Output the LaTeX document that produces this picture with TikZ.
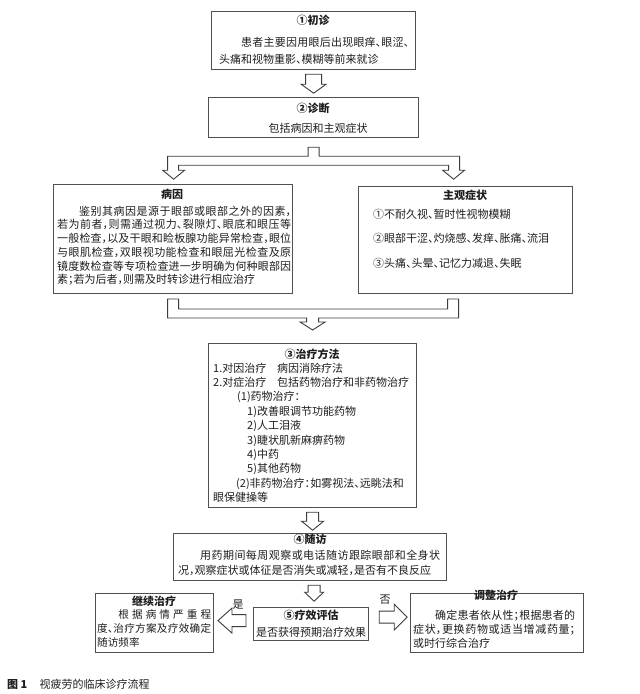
\documentclass[tikz,border=0pt]{standalone}
\usepackage{fontspec}
\setmainfont{Noto Sans CJK SC}[RawFeature=+halt]
\usetikzlibrary{calc}
\XeTeXlinebreaklocale "zh"
\XeTeXlinebreakskip=0pt plus 6pt
\XeTeXlinebreakpenalty=10000
\setlength\parindent{0pt}
\definecolor{framecol}{HTML}{505050}
\definecolor{txtcol}{HTML}{1E1E1E}
\definecolor{arrcol}{HTML}{3C3C3C}
\tikzset{
 frame/.style={draw=framecol, line width=1.2pt, inner sep=0pt, anchor=north west},
 harrow/.style={draw=arrcol, line width=0.9pt, fill=white, line join=miter},
 ttl/.style={inner sep=0pt, text=txtcol, font=\fontsize{11}{13}\selectfont\bfseries},
 plain/.style={inner sep=0pt, text=txtcol, font=\fontsize{11}{13}\selectfont},
 para/.style={inner sep=0pt, text=txtcol, anchor=north west, align=justify},
 lst/.style={inner sep=0pt, text=txtcol, anchor=north west, align=left},
}
\begin{document}
\begin{tikzpicture}[x=1pt,y=-1pt]
\fill[white] (0,0) rectangle (640,694);
\useasboundingbox (0,0) rectangle (640,694);

% frames
\node[frame, minimum width=204pt, minimum height=58pt] (b1) at (211,11) {};
\node[frame, minimum width=210pt, minimum height=40pt] (b2) at (208,97) {};
\node[frame, minimum width=239pt, minimum height=109pt] (lb) at (53,184) {};
\node[frame, minimum width=214pt, minimum height=107pt] (rb) at (358,186) {};
\node[frame, minimum width=208pt, minimum height=164pt] (b3) at (208,343) {};
\node[frame, minimum width=273pt, minimum height=47pt] (b4) at (173,533) {};
\node[frame, minimum width=115pt, minimum height=33pt] (b5) at (253,607) {};
\node[frame, minimum width=118pt, minimum height=59pt] (cb) at (95,593) {};
\node[frame, minimum width=173pt, minimum height=59pt] (ab) at (410,593) {};

% texts
\node[ttl] (t1) at (313,20) {①初诊};
\node[para, text width=190pt, font=\fontsize{11}{17}\selectfont] (p1) at (219,36.5)
 {\hspace*{2em}患者主要因用眼后出现眼痒、眼涩、\linebreak 头痛和视物重影、模糊等前来就诊};

\node[ttl] (t2) at (313,108) {②诊断};
\node[plain] (p2) at (318,128) {包括病因和主观症状};

\node[ttl] (t3) at (172,194) {病因};
\node[para, text width=234pt, font=\fontsize{11}{13.8}\selectfont] (p3) at (57,205.5)
 {\hspace*{2em}鉴别其病因是源于眼部或眼部之外的因素，\linebreak
  若为前者，则需通过视力、裂隙灯、眼底和眼压等\linebreak
  一般检查，以及干眼和睑板腺功能异常检查，眼位\linebreak
  与眼肌检查，双眼视功能检查和眼屈光检查及原\linebreak
  镜度数检查等专项检查进一步明确为何种眼部因\linebreak
  素；若为后者，则需及时转诊进行相应治疗};

\node[ttl] (t4) at (465,195) {主观症状};
\node[lst, font=\fontsize{11}{24.5}\selectfont] (p4) at (373,208.5)
 {①不耐久视、暂时性视物模糊\\②眼部干涩、灼烧感、发痒、胀痛、流泪\\③头痛、头晕、记忆力减退、失眠};

\node[ttl] (t5) at (312,354) {③治疗方法};
\node[lst, font=\fontsize{11}{14.4}\selectfont] (p5) at (213,362.5)
 {\makebox[64pt][l]{1.对因治疗}病因消除疗法\\
  \makebox[64pt][l]{2.对症治疗}包括药物治疗和非药物治疗\\
  \hspace*{24pt}(1)药物治疗：\\
  \hspace*{34pt}1)改善眼调节功能药物\\
  \hspace*{34pt}2)人工泪液\\
  \hspace*{34pt}3)睫状肌新麻痹药物\\
  \hspace*{34pt}4)中药\\
  \hspace*{34pt}5)其他药物\\
  \hspace*{23pt}(2)非药物治疗：如雾视法、远眺法和\\
  眼保健操等};

\node[ttl] (t6) at (310,539) {④随访};
\node[para, text width=262pt, font=\fontsize{11}{15}\selectfont] (p6) at (178,549.5)
 {\parfillskip=0pt\hspace*{2em}用药期间每周观察或电话随访跟踪眼部和全身状\linebreak
  况，观察症状或体征是否消失或减轻，是否有不良反应};

\node[ttl] (t7) at (311,615) {⑤疗效评估};
\node[plain] (p7) at (311,632) {是否获得预期治疗效果};

\node[ttl] (t8) at (154,601) {继续治疗};
\node[para, text width=114pt, font=\fontsize{10.6}{14}\selectfont] (p8) at (97,609.5)
 {\hspace*{2em}根据病情严重程\linebreak 度、治疗方案及疗效确定\linebreak 随访频率};

\node[ttl] (t9) at (496,595) {调整治疗};
\node[para, text width=162pt, font=\fontsize{11}{14}\selectfont] (p9) at (413,609.5)
 {\hspace*{2em}确定患者依从性；根据患者的\linebreak 症状，更换药物或适当增减药量；\linebreak 或时行综合治疗};

\node[plain] (yes) at (238,605) {是};
\node[plain] (no) at (385,600) {否};

\node[plain, anchor=west] (cap) at (7,684) {{\bfseries 图 1}\hspace{1.1em}视疲劳的临床诊疗流程};

% hollow arrows
\draw[harrow, shift={(b1.south)}] (-8,4) -- (8,4) -- (8,14) -- (12.5,14) -- (0,23) -- (-12.5,14) -- (-8,14) -- cycle;

\draw[harrow, shift={(b2.south)}] (-5.5,9) -- (5.5,9) -- (5.5,18) -- (146,18) -- (146,32) -- (151,32) -- (140,41) -- (129,32) -- (135,32) -- (135,27) -- (-135,27) -- (-135,32) -- (-129,32) -- (-140,41) -- (-151,32) -- (-146,32) -- (-146,18) -- (-5.5,18) -- cycle;

\draw[harrow, shift={(b3.north)}] (-145,-44) -- (-134,-44) -- (-134,-34) -- (135,-34) -- (135,-44) -- (146,-44) -- (146,-25) -- (6,-25) -- (6,-21) -- (12.5,-21) -- (0,-13) -- (-12.5,-21) -- (-6,-21) -- (-6,-25) -- (-145,-25) -- cycle;

\draw[harrow, shift={(b3.south)}] (-6,4) -- (6,4) -- (6,13) -- (11,13) -- (0,22) -- (-11,13) -- (-6,13) -- cycle;

\draw[harrow, shift={(b4.south)}] (-2,4) -- (10,4) -- (10,11) -- (13.5,11) -- (4,20) -- (-5.5,11) -- (-2,11) -- cycle;

\draw[harrow, shift={(b5.west)}] (-7,-9.5) -- (-7,2.5) -- (-21,2.5) -- (-21,9) -- (-35,-3.5) -- (-21,-16) -- (-21,-9.5) -- cycle;

\draw[harrow, shift={(b5.east)}] (10,-13) -- (25,-13) -- (25,-20) -- (38,-7) -- (25,6) -- (25,-1) -- (10,-1) -- cycle;
\end{tikzpicture}
\end{document}
